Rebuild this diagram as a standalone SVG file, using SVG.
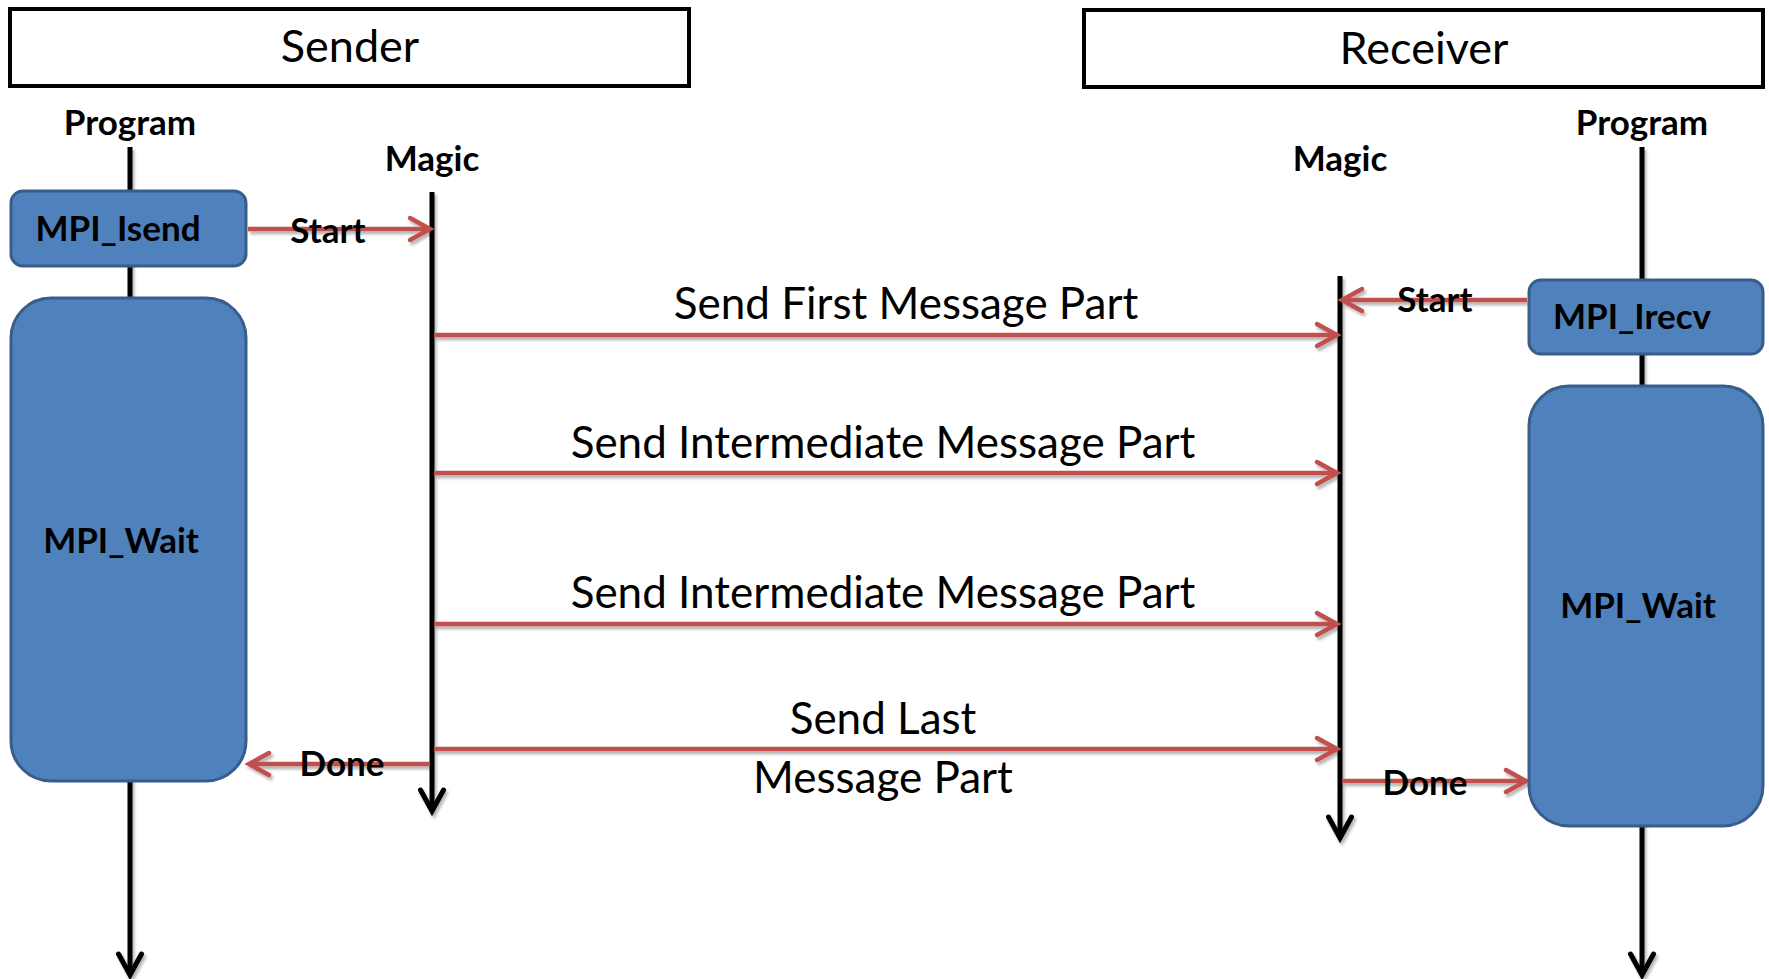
<svg xmlns="http://www.w3.org/2000/svg" width="1769" height="979" viewBox="0 0 1769 979">
  <style>
    .title { font-family: Lato, "Open Sans", "Liberation Sans", sans-serif; font-size: 45px; fill: #000; text-anchor: middle; }
    .msg { font-family: Lato, "Open Sans", "Liberation Sans", sans-serif; font-size: 44px; fill: #000; text-anchor: middle; }
    .lbl { font-family: Lato, "Open Sans", "Liberation Sans", sans-serif; font-size: 35px; font-weight: bold; fill: #000; text-anchor: middle; }
    .hdr { fill: #fff; stroke: #000; stroke-width: 4; }
    .call { fill: #4F81BD; stroke: #385D8A; stroke-width: 3; }
    .life { stroke: #000; stroke-width: 5; fill: none; marker-end: url(#blk); }
    .msgline { stroke: #C0504D; stroke-width: 4.5; fill: none; marker-end: url(#red); }
  </style>
  <defs>
    <filter id="shadow" x="-5%" y="-20%" width="110%" height="140%">
      <feGaussianBlur in="SourceAlpha" stdDeviation="1.5"/>
      <feOffset dx="1.5" dy="2.5" result="b"/>
      <feComponentTransfer><feFuncA type="linear" slope="0.3"/></feComponentTransfer>
      <feMerge><feMergeNode/><feMergeNode in="SourceGraphic"/></feMerge>
    </filter>
    <marker id="red" markerUnits="userSpaceOnUse" viewBox="-26 -15 30 30" refX="0" refY="0" markerWidth="30" markerHeight="30" orient="auto" overflow="visible">
      <path d="M -20 -11 L 0 0 L -20 11" fill="none" stroke="#C0504D" stroke-width="4.5" stroke-linecap="round" stroke-linejoin="miter"/>
    </marker>
    <marker id="blk" markerUnits="userSpaceOnUse" viewBox="-26 -15 30 30" refX="0" refY="0" markerWidth="30" markerHeight="30" orient="auto" overflow="visible">
      <path d="M -21 -11.5 L 0 0 L -21 11.5" fill="none" stroke="#000" stroke-width="5" stroke-linecap="round" stroke-linejoin="miter"/>
    </marker>
  </defs>

  <!-- process headers -->
  <g id="sender">
    <rect class="hdr" x="10" y="9" width="679" height="77"/>
    <text class="title" x="350" y="62">Sender</text>
  </g>
  <g id="receiver">
    <rect class="hdr" x="1084" y="10" width="679" height="77"/>
    <text class="title" x="1424" y="64">Receiver</text>
  </g>

  <!-- lifeline captions -->
  <g id="sender-program-label"><text class="lbl" x="130" y="135">Program</text></g>
  <g id="sender-magic-label"><text class="lbl" x="432" y="171">Magic</text></g>
  <g id="receiver-magic-label"><text class="lbl" x="1340" y="171">Magic</text></g>
  <g id="receiver-program-label"><text class="lbl" x="1642" y="135">Program</text></g>

  <!-- lifelines and message connectors -->
  <g id="connectors" filter="url(#shadow)">
    <line class="life" x1="130" y1="147" x2="130" y2="975"/>
    <line class="life" x1="432" y1="192" x2="432" y2="811"/>
    <line class="life" x1="1340" y1="276" x2="1340" y2="838"/>
    <line class="life" x1="1642" y1="147" x2="1642" y2="975"/>

    <line class="msgline" x1="248" y1="229" x2="430" y2="229"/>
    <line class="msgline" x1="1527" y1="300" x2="1342" y2="300"/>
    <line class="msgline" x1="434" y1="335" x2="1337" y2="335"/>
    <line class="msgline" x1="434" y1="473" x2="1337" y2="473"/>
    <line class="msgline" x1="434" y1="624" x2="1337" y2="624"/>
    <line class="msgline" x1="434" y1="749" x2="1337" y2="749"/>
    <line class="msgline" x1="430" y1="764" x2="249" y2="764"/>
    <line class="msgline" x1="1342" y1="781" x2="1526" y2="781"/>
  </g>

  <!-- call boxes -->
  <g id="mpi-isend">
    <rect class="call" x="11" y="191" width="235" height="75" rx="12"/>
    <text class="lbl" x="118" y="241">MPI_Isend</text>
  </g>
  <g id="sender-mpi-wait">
    <rect class="call" x="11" y="298" width="235" height="483" rx="40"/>
    <text class="lbl" x="121" y="553">MPI_Wait</text>
  </g>
  <g id="mpi-irecv">
    <rect class="call" x="1529" y="280" width="234" height="74" rx="12"/>
    <text class="lbl" x="1632" y="329">MPI_Irecv</text>
  </g>
  <g id="receiver-mpi-wait">
    <rect class="call" x="1529" y="386" width="234" height="440" rx="40"/>
    <text class="lbl" x="1638" y="618">MPI_Wait</text>
  </g>

  <!-- connector labels -->
  <g id="labels">
    <text class="lbl" x="328" y="243">Start</text>
    <text class="lbl" x="1435" y="312">Start</text>
    <text class="lbl" x="342" y="776">Done</text>
    <text class="lbl" x="1425" y="795">Done</text>
    <text class="msg" x="906" y="319">Send First Message Part</text>
    <text class="msg" x="883" y="458">Send Intermediate Message Part</text>
    <text class="msg" x="883" y="608">Send Intermediate Message Part</text>
    <text class="msg" x="883" y="734">Send Last</text>
    <text class="msg" x="883" y="793">Message Part</text>
  </g>
</svg>
